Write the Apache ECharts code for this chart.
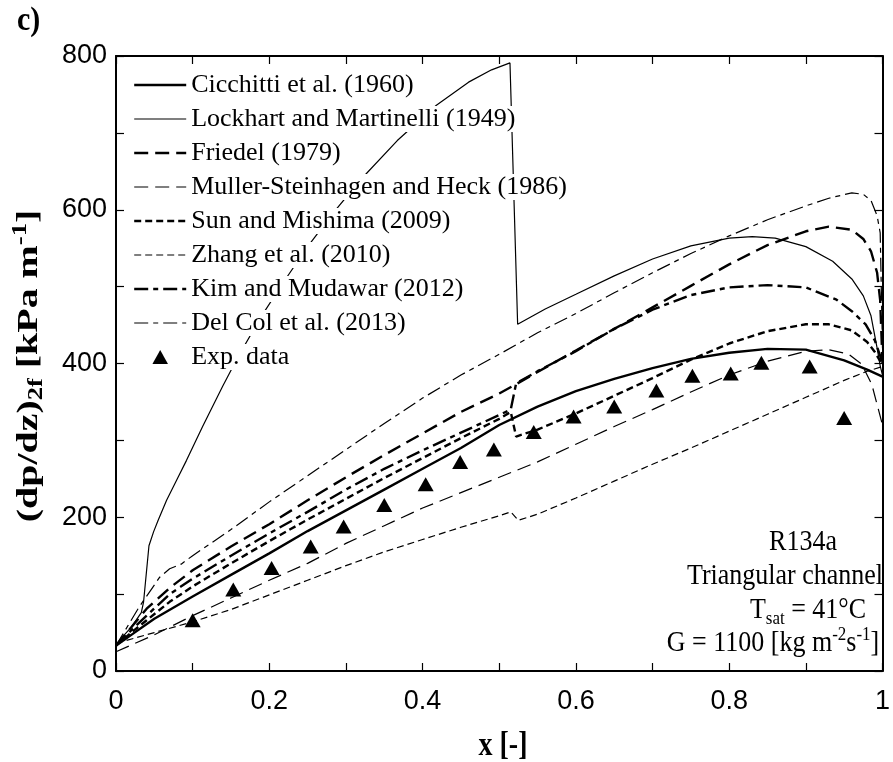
<!DOCTYPE html>
<html>
<head>
<meta charset="utf-8">
<script src="https://cdn.jsdelivr.net/npm/echarts@6/dist/echarts.min.js"></script>
<style>html,body{margin:0;padding:0;background:#fff;}#c{width:893px;height:762px;}</style>
</head>
<body>
<div id="c"></div>
<script>
// ---- data ----
const cicX = [0, 0.01, 0.02, 0.05, 0.1, 0.15, 0.2, 0.25, 0.3, 0.35, 0.4, 0.45, 0.5, 0.55, 0.6, 0.65, 0.7, 0.75, 0.8, 0.85, 0.9, 0.95, 0.98, 1.0];
const cicY = [33, 40, 47, 68, 97, 125, 153, 182, 209, 236, 263, 290, 320, 344, 364, 380, 394, 406, 414, 419, 418, 404, 392, 383];

const lmX = [0, 0.01, 0.02, 0.033, 0.036, 0.043, 0.049, 0.055, 0.066, 0.08, 0.092, 0.113, 0.139, 0.16, 0.19, 0.22, 0.25, 0.285, 0.32, 0.367, 0.418, 0.46, 0.49, 0.514, 0.524, 0.56, 0.6, 0.65, 0.7, 0.75, 0.8, 0.83, 0.86, 0.9, 0.935, 0.96, 0.975, 0.985, 0.993, 0.997, 1.0];
const lmY = [34, 46, 57, 76, 90, 163, 181, 196, 222, 250, 274, 318, 370, 410, 462, 508, 552, 598, 640, 690, 736, 766, 782, 791, 451, 471, 490, 514, 536, 553, 563, 565, 563, 552, 533, 510, 488, 462, 420, 397, 385];

const frX = [0, 0.02, 0.04, 0.07, 0.1, 0.15, 0.2, 0.25, 0.3, 0.35, 0.4, 0.45, 0.5, 0.52, 0.55, 0.6, 0.65, 0.7, 0.75, 0.8, 0.85, 0.9, 0.93, 0.96, 0.975, 0.985, 0.993, 0.997, 1.0];
const frY = [33, 57, 81, 108, 131, 162, 191, 222, 252, 281, 309, 337, 361, 372, 389, 417, 445, 473, 501, 529, 554, 572, 578, 574, 562, 546, 518, 482, 400];

const mshX = [0, 0.05, 0.1, 0.15, 0.2, 0.25, 0.3, 0.35, 0.4, 0.45, 0.5, 0.55, 0.6, 0.65, 0.7, 0.75, 0.8, 0.85, 0.9, 0.93, 0.956, 0.973, 0.986, 0.995, 1.0];
const mshY = [25, 47, 72, 95, 118, 140, 166, 189, 212, 232, 252, 272, 295, 318, 340, 363, 385, 403, 416, 418, 412, 399, 373, 339, 320];

const smX = [0, 0.02, 0.04, 0.07, 0.1, 0.15, 0.2, 0.25, 0.3, 0.35, 0.4, 0.45, 0.5, 0.515, 0.522, 0.55, 0.6, 0.65, 0.7, 0.75, 0.8, 0.85, 0.9, 0.93, 0.96, 0.98, 0.99, 1.0];
const smY = [33, 50, 66, 90, 110, 140, 169, 197, 224, 251, 277, 303, 328, 337, 305, 314, 335, 358, 381, 405, 426, 442, 451, 451, 443, 428, 415, 398];

const zhX = [0, 0.05, 0.1, 0.15, 0.2, 0.25, 0.3, 0.35, 0.4, 0.45, 0.5, 0.515, 0.525, 0.55, 0.6, 0.65, 0.7, 0.75, 0.8, 0.85, 0.9, 0.95, 0.98, 1.0];
const zhY = [36, 50, 64, 80, 99, 118, 137, 155, 171, 187, 202, 207, 196, 204, 225, 247, 269, 290, 312, 334, 356, 378, 390, 396];

const kmX = [0, 0.02, 0.04, 0.07, 0.1, 0.15, 0.2, 0.25, 0.3, 0.35, 0.4, 0.45, 0.5, 0.515, 0.522, 0.55, 0.6, 0.65, 0.7, 0.75, 0.8, 0.85, 0.9, 0.94, 0.96, 0.978, 0.99, 0.997, 1.0];
const kmY = [33, 53, 72, 100, 120, 150, 179, 207, 236, 263, 287, 310, 333, 340, 374, 390, 416, 445, 470, 489, 499, 502, 499, 483, 468, 451, 430, 410, 400];

const dcX = [0, 0.03, 0.057, 0.07, 0.085, 0.1, 0.15, 0.2, 0.25, 0.3, 0.35, 0.4, 0.45, 0.5, 0.55, 0.6, 0.65, 0.7, 0.75, 0.8, 0.85, 0.9, 0.93, 0.96, 0.975, 0.985, 0.993, 0.997, 1.0];
const dcY = [33, 83, 122, 133, 139, 150, 184, 220, 254, 288, 322, 355, 385, 412, 440, 465, 492, 518, 543, 566, 587, 605, 615, 622, 620, 612, 592, 570, 420];

const expX = [0.1, 0.153, 0.203, 0.254, 0.297, 0.35, 0.404, 0.449, 0.493, 0.545, 0.597, 0.65, 0.705, 0.752, 0.802, 0.842, 0.905, 0.95];
const expY = [66, 106, 134, 162, 188, 216, 243, 272, 288, 311, 331, 344, 365, 384, 387, 401, 396, 329];

const seriesNames = ['Cicchitti et al. (1960)', 'Lockhart and Martinelli (1949)', 'Friedel (1979)',
  'Muller-Steinhagen and Heck (1986)', 'Sun and Mishima (2009)', 'Zhang et al. (2010)',
  'Kim and Mudawar (2012)', 'Del Col et al. (2013)', 'Exp. data'];
const xTickLabels = ['0', '0.2', '0.4', '0.6', '0.8', '1'];
const yTickLabels = ['0', '200', '400', '600', '800'];

// ---- build ----
const zip = (xs, ys) => xs.map((x, i) => [x, ys[i]]);
const SERIF = 'Liberation Serif';
const SANS = 'Liberation Sans';

const THICK = 2.4, THIN = 1.2;
const LONG = [14, 7], SHORT = [7, 4], DASHDOT = [14, 5, 5, 5];
const styles = [
  [THICK, 'solid'], [THIN, 'solid'], [THICK, LONG], [THIN, LONG],
  [THICK, SHORT], [THIN, SHORT], [THICK, DASHDOT], [THIN, DASHDOT]
];
const lineData = [[cicX, cicY], [lmX, lmY], [frX, frY], [mshX, mshY], [smX, smY], [zhX, zhY], [kmX, kmY], [dcX, dcY]];

const series = lineData.map(function (d, i) {
  return {
    name: seriesNames[i], type: 'line', data: zip(d[0], d[1]), symbol: 'none', smooth: false,
    xAxisIndex: 0, yAxisIndex: 0, z: 3,
    itemStyle: { color: '#000' },
    lineStyle: { color: '#000', width: styles[i][0], type: styles[i][1] },
    emphasis: { disabled: true }
  };
});
series.push({
  name: seriesNames[8], type: 'scatter', data: zip(expX, expY),
  symbol: 'triangle', symbolSize: [16, 14], z: 4,
  itemStyle: { color: '#000', opacity: 1 }, emphasis: { disabled: true }
});

function xLab(v) {
  const r = Math.round(v * 10);
  if (r % 2 !== 0) return '';
  return xTickLabels[r / 2] || '';
}
function yLab(v) {
  const r = Math.round(v / 100);
  if (r % 2 !== 0) return '';
  return yTickLabels[r / 2] || '';
}

const axisCommon = {
  type: 'value',
  axisLine: { show: true, onZero: false, lineStyle: { color: '#000', width: 2 } },
  axisTick: { show: true, inside: true, length: 8, lineStyle: { color: '#000', width: 1.2 } },
  splitLine: { show: false },
  minorTick: { show: false }
};

const chart = echarts.init(document.getElementById('c'), null, { renderer: 'canvas' });
chart.setOption({
  animation: false,
  backgroundColor: '#fff',
  grid: { left: 116, right: 3, top: 56, bottom: 91, containLabel: false },
  xAxis: [
    Object.assign({}, axisCommon, {
      min: 0, max: 1, interval: 0.1, position: 'bottom',
      axisLabel: { formatter: xLab, color: '#000', fontFamily: SANS, fontSize: 27, margin: 17, showMaxLabel: true, showMinLabel: true }
    }),
    Object.assign({}, axisCommon, {
      min: 0, max: 1, interval: 0.1, position: 'top', axisLabel: { show: false }
    })
  ],
  yAxis: [
    Object.assign({}, axisCommon, {
      min: 0, max: 800, interval: 100, position: 'left',
      axisLabel: { formatter: yLab, color: '#000', fontFamily: SANS, fontSize: 27, margin: 9, showMaxLabel: true, showMinLabel: true }
    }),
    Object.assign({}, axisCommon, {
      min: 0, max: 800, interval: 100, position: 'right', axisLabel: { show: false }
    })
  ],
  legend: {
    orient: 'vertical', left: 133, top: 72, padding: 0,
    itemWidth: 52, itemHeight: 14, itemGap: 8,
    selectedMode: false, symbolKeepAspect: true,
    textStyle: { fontFamily: SERIF, fontSize: 26, color: '#000', backgroundColor: '#fff' },
    data: seriesNames.map(function (n, i) {
      return i === 8
        ? { name: n, icon: 'path://M0,-10L10,8L-10,8Z', itemStyle: { color: '#000', opacity: 1 } }
        : { name: n, itemStyle: { opacity: 0 }, lineStyle: { color: '#000', width: styles[i][0], type: styles[i][1], opacity: 1 } };
    })
  },
  series: series,
  graphic: [
    { type: 'text', x: 17, y: 21, scaleY: 1.1, style: { text: 'c)', font: 'bold 30px "Liberation Serif"', fill: '#000', textVerticalAlign: 'middle' } },
    { type: 'text', x: 503, y: 746, scaleY: 1.2, style: { text: 'x [-]', font: 'bold 28px "Liberation Serif"', fill: '#000', textAlign: 'center', textVerticalAlign: 'middle' } },
    {
      type: 'text', x: 29, y: 366, rotation: Math.PI / 2, scaleX: 1.33,
      style: {
        text: '{m|(dp/dz)}{s|2f}{m| [kPa m}{p|-1}{m|]}',
        textAlign: 'center', textVerticalAlign: 'middle', fill: '#000',
        rich: {
          m: { fontFamily: SERIF, fontWeight: 'bold', fontSize: 30, lineHeight: 36, fill: '#000' },
          s: { fontFamily: SERIF, fontWeight: 'bold', fontSize: 20, lineHeight: 20, verticalAlign: 'bottom', fill: '#000' },
          p: { fontFamily: SERIF, fontWeight: 'bold', fontSize: 20, lineHeight: 20, verticalAlign: 'top', fill: '#000' }
        }
      }
    },
    { type: 'text', x: 803, y: 542, scaleY: 1.15, style: { text: 'R134a', font: '26px "Liberation Serif"', fill: '#000', textAlign: 'center', textVerticalAlign: 'middle' } },
    { type: 'text', x: 785, y: 576, scaleY: 1.15, style: { text: 'Triangular channel', font: '26px "Liberation Serif"', fill: '#000', textAlign: 'center', textVerticalAlign: 'middle' } },
    {
      type: 'text', x: 808, y: 610, scaleY: 1.15,
      style: {
        text: '{m|T}{s|sat}{m| = 41°C}', textAlign: 'center', textVerticalAlign: 'middle', fill: '#000',
        rich: {
          m: { fontFamily: SERIF, fontSize: 26, lineHeight: 32, fill: '#000' },
          s: { fontFamily: SERIF, fontSize: 17, lineHeight: 17, verticalAlign: 'bottom', fill: '#000' }
        }
      }
    },
    {
      type: 'text', x: 773, y: 643, scaleY: 1.15,
      style: {
        text: '{m|G = 1100 [kg m}{p|-2}{m|s}{p|-1}{m|]}', textAlign: 'center', textVerticalAlign: 'middle', fill: '#000',
        rich: {
          m: { fontFamily: SERIF, fontSize: 26, lineHeight: 32, fill: '#000' },
          p: { fontFamily: SERIF, fontSize: 17, lineHeight: 17, verticalAlign: 'top', fill: '#000' }
        }
      }
    }
  ]
});
</script>
</body>
</html>
